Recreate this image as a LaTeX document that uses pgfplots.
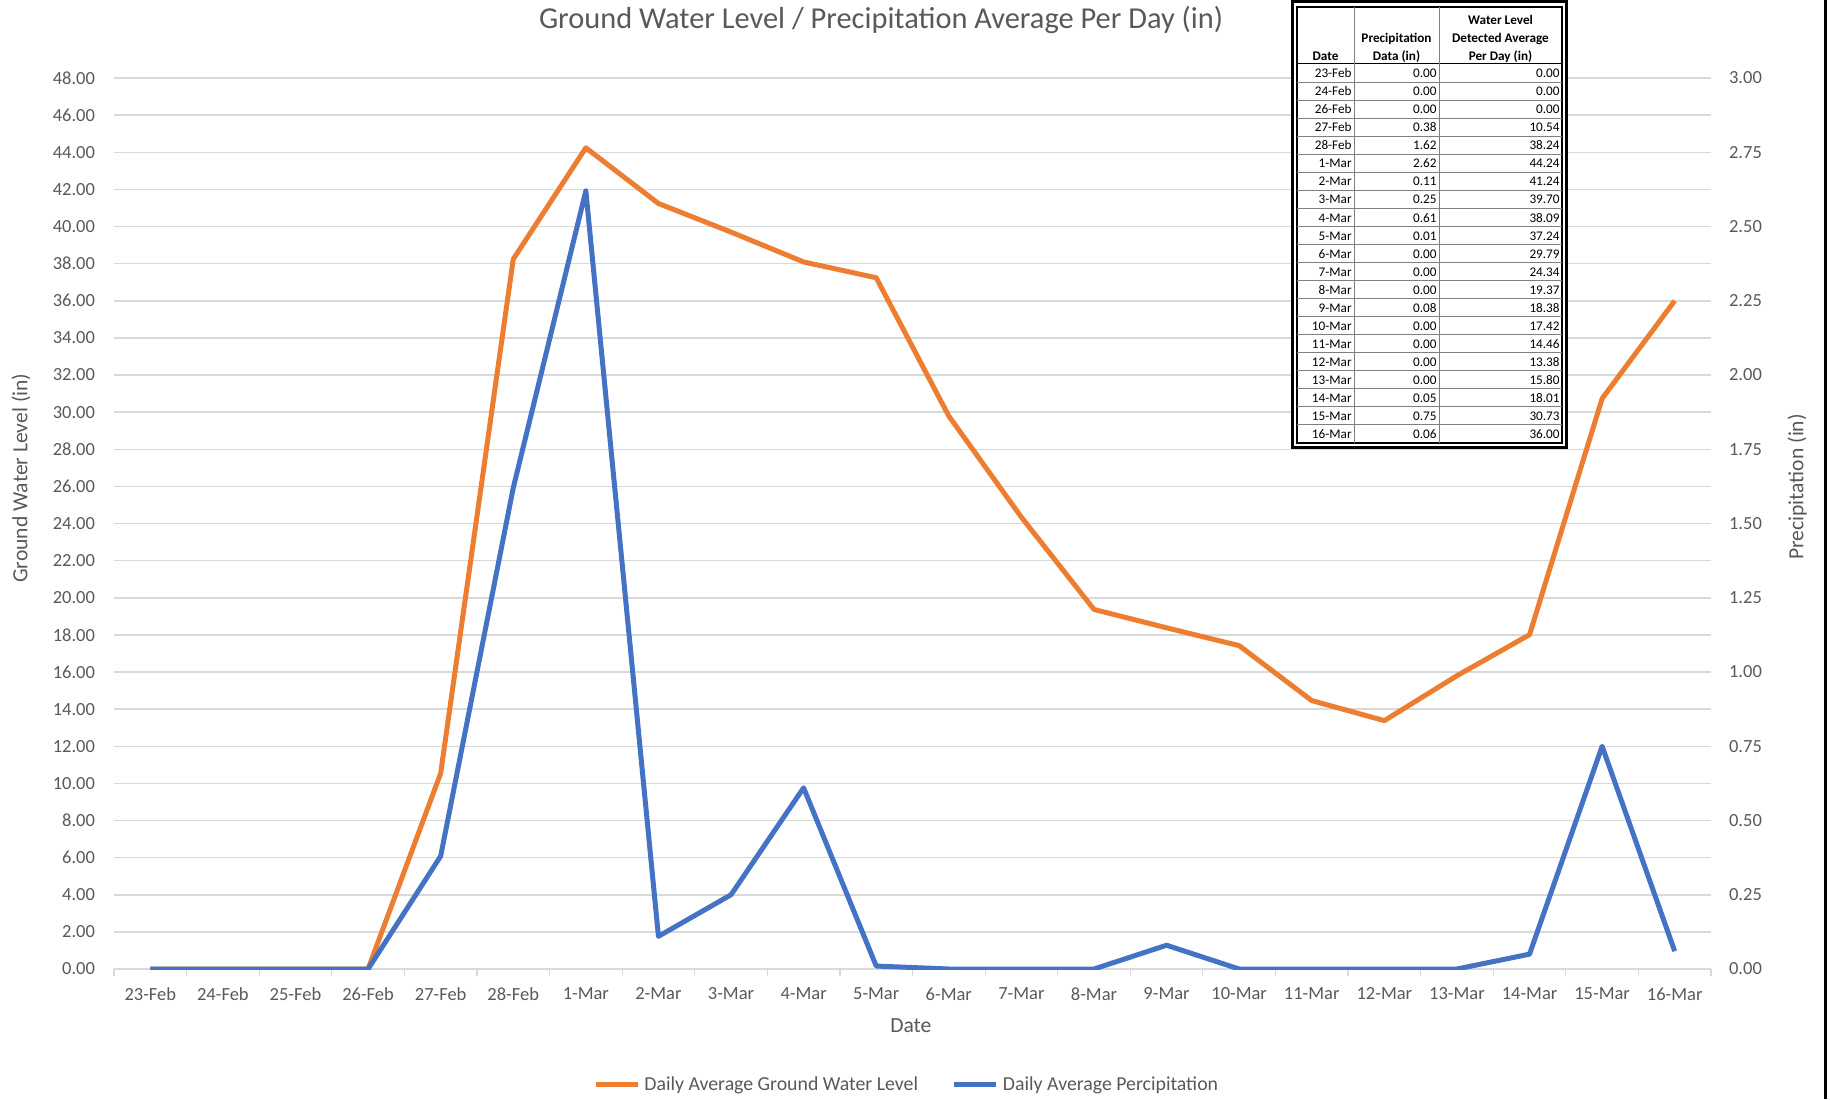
\documentclass[border=0pt]{standalone}
\usepackage{pgfplots}
\pgfplotsset{compat=1.18}
\usepackage{fontspec}
\setmainfont{Carlito}
\definecolor{worange}{HTML}{ED7D31}
\definecolor{wblue}{HTML}{4472C4}
\definecolor{gridc}{HTML}{D9D9D9}
\definecolor{txt}{HTML}{595959}
\definecolor{rowline}{HTML}{7F7F7F}
\pgfplotstableread{
x w p
0 0 0
1 0 0
2 0 0
3 0 0
4 10.54 0.38
5 38.24 1.62
6 44.24 2.62
7 41.24 0.11
8 39.70 0.25
9 38.09 0.61
10 37.24 0.01
11 29.79 0
12 24.34 0
13 19.37 0
14 18.38 0.08
15 17.42 0
16 14.46 0
17 13.38 0
18 15.80 0
19 18.01 0.05
20 30.73 0.75
21 36.00 0.06
}\datatable
\begin{document}
\begin{tikzpicture}
\useasboundingbox (0,0) rectangle (915pt,549.5pt);
\pgfplotsset{
  common/.style={
    at={(57pt,65pt)}, anchor=south west, scale only axis,
    width=798.5pt, height=445.5pt,
    xmin=-0.5, xmax=21.5,
    /pgf/number format/assume math mode=true,
    ticklabel style={font=\fontsize{9.25}{11}\selectfont, text=txt},
    major tick length=0pt,
    ytick style={draw=none},
    yticklabel style={/pgf/number format/fixed, /pgf/number format/fixed zerofill, /pgf/number format/precision=2},
  }
}
\begin{axis}[common,
  ymin=0, ymax=48,
  axis x line*=bottom, axis y line*=left,
  x axis line style={-, draw=gridc, line width=0.6pt},
  y axis line style={draw=none},
  ytick={0,2,...,48},
  ymajorgrids, grid style={draw=gridc, line width=0.75pt},
  yticklabel style={anchor=east, xshift=-6pt},
  xtick={0,...,21},
  xticklabels={23-Feb,24-Feb,25-Feb,26-Feb,27-Feb,28-Feb,1-Mar,2-Mar,3-Mar,4-Mar,5-Mar,6-Mar,7-Mar,8-Mar,9-Mar,10-Mar,11-Mar,12-Mar,13-Mar,14-Mar,15-Mar,16-Mar},
  xticklabel style={anchor=center, yshift=-12.5pt},
  xtick style={draw=none},
  minor xtick={-0.5,0.5,...,21.5},
  minor x tick style={draw=gridc, line width=0.6pt},
  minor tick length=3.5pt,
  tick align=outside,
  ylabel={Ground Water Level (in)},
  ylabel style={at={(axis description cs:-0.0582,0.551)}, anchor=center, rotate=0, font=\fontsize{10.8}{13}\selectfont, text=txt},
  xlabel={Date},
  xlabel style={at={(axis description cs:0.499,-0.064)}, anchor=center, font=\fontsize{10.8}{13}\selectfont, text=txt},
]
\addplot[worange, line width=2.5pt, line join=round] table[x=x, y=w] {\datatable};
\end{axis}
\begin{axis}[common,
  ymin=0, ymax=3,
  axis x line=none,
  axis y line*=right,
  y axis line style={draw=none},
  ytick={0,0.25,0.5,0.75,1,1.25,1.5,1.75,2,2.25,2.5,2.75,3},
  yticklabel style={anchor=west, xshift=5.5pt},
  ylabel={Precipitation (in)},
  ylabel style={at={(axis description cs:1.054,0.541)}, anchor=center, rotate=0, font=\fontsize{10.8}{13}\selectfont, text=txt},
  legend style={at={(axis description cs:0.497,-0.130)}, anchor=center, draw=none, fill=none,
    legend columns=2, font=\fontsize{9.9}{12}\selectfont, text=txt,
    /tikz/every even column/.append style={column sep=15pt}, inner sep=0pt},
  legend image code/.code={\draw[#1] (0pt,0pt) -- (21pt,0pt);},
]
\addlegendimage{worange, line width=2.5pt}
\addlegendentry{Daily Average Ground Water Level}
\addplot[wblue, line width=2.5pt, line join=round] table[x=x, y=p] {\datatable};
\addlegendentry{Daily Average Percipitation}
\end{axis}
\node[anchor=center, font=\fontsize{15.2}{18}\selectfont, text=txt] at (440.5pt,539.5pt) {Ground Water Level / Precipitation Average Per Day (in)};
% data table box
\fill[white] (646pt,325.5pt) rectangle (783pt,548.5pt);
\draw[black, line width=1.5pt] (646pt,325.5pt) rectangle (783pt,548.5pt);
\draw[black, line width=0.7pt] (648.5pt,328pt) rectangle (781pt,546pt);
\foreach \i in {1,...,20} {
  \draw[rowline, line width=0.5pt] (648.5pt,{517.5pt-\i*9.024pt}) -- (781pt,{517.5pt-\i*9.024pt});
}
\draw[black, line width=0.5pt] (648.5pt,517.5pt) -- (781pt,517.5pt);
\draw[rowline, line width=0.5pt] (677pt,328pt) -- (677pt,546pt);
\draw[rowline, line width=0.5pt] (719.5pt,328pt) -- (719.5pt,546pt);
\begin{scope}[every node/.style={inner sep=0pt, font=\fontsize{6.6}{7.5}\selectfont}]
\node[anchor=base, font=\fontsize{6.6}{7.5}\selectfont\bfseries] at (662.75pt,519.3pt) {Date};
\node[anchor=base, font=\fontsize{6.6}{7.5}\selectfont\bfseries] at (698.25pt,528.3pt) {Precipitation};
\node[anchor=base, font=\fontsize{6.6}{7.5}\selectfont\bfseries] at (698.25pt,519.3pt) {Data (in)};
\node[anchor=base, font=\fontsize{6.6}{7.5}\selectfont\bfseries] at (750.25pt,537.3pt) {Water Level};
\node[anchor=base, font=\fontsize{6.6}{7.5}\selectfont\bfseries] at (750.25pt,528.3pt) {Detected Average};
\node[anchor=base, font=\fontsize{6.6}{7.5}\selectfont\bfseries] at (750.25pt,519.3pt) {Per Day (in)};
\foreach \d/\p/\w [count=\i from 0] in {23-Feb/0.00/0.00, 24-Feb/0.00/0.00, 26-Feb/0.00/0.00, 27-Feb/0.38/10.54, 28-Feb/1.62/38.24, 1-Mar/2.62/44.24, 2-Mar/0.11/41.24, 3-Mar/0.25/39.70, 4-Mar/0.61/38.09, 5-Mar/0.01/37.24, 6-Mar/0.00/29.79, 7-Mar/0.00/24.34, 8-Mar/0.00/19.37, 9-Mar/0.08/18.38, 10-Mar/0.00/17.42, 11-Mar/0.00/14.46, 12-Mar/0.00/13.38, 13-Mar/0.00/15.80, 14-Mar/0.05/18.01, 15-Mar/0.75/30.73, 16-Mar/0.06/36.00} {
  \node[anchor=base east] at (676pt,{517.5pt-(\i+0.5)*9.024pt-2.3pt}) {\d};
  \node[anchor=base east] at (718.5pt,{517.5pt-(\i+0.5)*9.024pt-2.3pt}) {\p};
  \node[anchor=base east] at (780pt,{517.5pt-(\i+0.5)*9.024pt-2.3pt}) {\w};
}
\end{scope}
\draw[black, line width=1.5pt] (912.5pt,0pt) -- (912.5pt,549.5pt);
\end{tikzpicture}
\end{document}
